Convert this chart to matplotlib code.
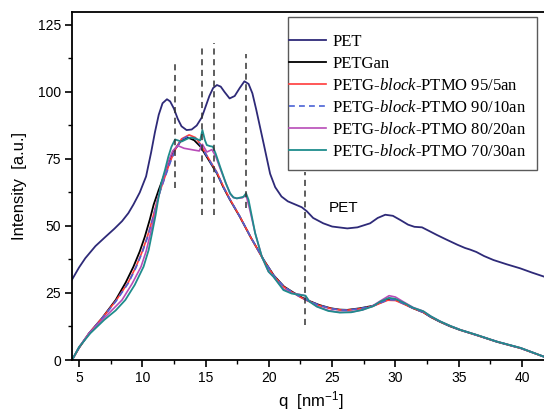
import matplotlib
matplotlib.use("Agg")
import matplotlib.pyplot as plt
from matplotlib.ticker import MultipleLocator
from matplotlib.patches import Rectangle

plt.rcParams['font.family'] = ['Liberation Sans', 'DejaVu Sans']
plt.rcParams['mathtext.fontset'] = 'custom'
plt.rcParams['mathtext.it'] = 'Liberation Serif:italic'
plt.rcParams['mathtext.rm'] = 'Liberation Sans'
plt.rcParams['mathtext.default'] = 'regular'

# ---------------- data ----------------
pet_q = [4.45, 5.0, 5.5, 6.3, 7.1, 7.8, 8.4, 8.9, 9.3, 9.8, 10.3, 10.7, 11.0, 11.3, 11.6,
         11.95, 12.2, 12.5, 12.8, 13.1, 13.5, 13.9, 14.3, 14.7, 15.0, 15.3, 15.6, 15.9,
         16.2, 16.5, 16.9, 17.3, 17.7, 18.07, 18.4, 18.7, 19.0, 19.3, 19.6, 20.1, 20.5,
         21.0, 21.5, 22.0, 22.6, 23.0, 23.5, 24.3, 25.0, 26.2, 27.0, 28.0, 28.6, 29.2,
         29.8, 30.4, 31.0, 31.5, 32.1, 32.6, 33.3, 34.0, 34.9, 35.5, 35.9, 36.4, 37.0,
         37.75, 38.8, 39.86, 40.8, 41.75]
pet_v = [30, 34.5, 38, 42.5, 46, 49, 51.8, 54.8, 58, 62.5, 68.5, 77.5, 85, 91.5, 95.8,
         97.3, 96.5, 93.8, 90, 87.2, 85.8, 86, 87.5, 90.5, 94.5, 98.5, 101.5, 102.6,
         102, 100, 97.6, 98.5, 101.5, 104, 103, 99.5, 93.5, 87, 80.5, 69.5, 64.5,
         61, 59.2, 58.2, 57, 55.5, 53, 51, 49.8, 49.1, 49.5, 51, 53, 54.2,
         53.8, 52.2, 50.5, 49.7, 49.5, 48.3, 46.6, 45, 43, 41.8, 41.2, 40.3, 38.8,
         37.3, 35.7, 34.2, 32.6, 31.1]

gan_q = [4.45, 5.0, 5.8, 6.8, 7.9, 8.7, 9.3, 9.8, 10.2, 10.6, 10.9, 11.3, 11.7, 12.1, 12.5,
         13.0, 13.6, 14.1, 14.6, 15.2, 15.9, 16.4, 16.9, 17.7, 18.6, 19.6, 20.4, 21.2,
         21.9, 22.5, 23.0, 24.0, 24.9, 25.6, 26.2, 27.2, 28.2, 28.8, 29.4, 30.0, 30.6,
         31.4, 32.2, 32.8, 33.5, 34.3, 35.1, 36.4, 38.0, 39.9, 41.75]
gan_v = [0, 4.5, 10, 15.5, 22.4, 29, 34.8, 40.5, 46, 52.5, 58, 63.5, 68.5, 73.5, 78,
         81.5, 83, 82, 79.6, 75, 69.6, 64.5, 60, 53.5, 45.5, 37.3, 31.5, 27.4,
         25.3, 23.6, 22.4, 20.5, 19.3, 18.8, 18.7, 19.3, 20.2, 21.4, 22.6, 22.5, 21.2,
         19.3, 17.8, 16.0, 14.3, 12.6, 11.2, 9.3, 6.8, 4.4, 1.2]

b95_q = [4.45, 5.0, 5.8, 6.8, 7.9, 8.9, 9.5, 10.0, 10.4, 10.8, 11.1, 11.4, 11.8, 12.2, 12.6,
         13.1, 13.7, 14.2, 14.6, 15.2, 15.9, 16.4, 16.9, 17.7, 18.6, 19.6, 20.4, 21.2,
         21.9, 22.5, 23.0, 24.0, 24.9, 25.6, 26.2, 27.2, 28.2, 28.8, 29.4, 30.0, 30.6,
         31.4, 32.2, 32.8, 33.5, 34.3, 35.1, 36.4, 38.0, 39.9, 41.75]
b95_v = [0, 4.6, 10, 15.5, 22, 29, 34.8, 40.5, 46, 52.5, 58, 63, 68.5, 74, 78.5,
         82.5, 84, 83, 80.5, 75.5, 70, 64.8, 60.2, 53.6, 45.5, 37.2, 31.3, 27.2,
         25.1, 23.4, 22.2, 20.3, 19.2, 18.7, 18.6, 19.1, 20.0, 21.2, 22.3, 22.2, 21.0,
         19.3, 17.8, 16.1, 14.4, 12.7, 11.3, 9.3, 6.9, 4.4, 1.2]

b90_q = [4.45, 5.0, 5.8, 6.8, 7.9, 8.9, 9.5, 10.0, 10.4, 10.8, 11.1, 11.4, 11.8, 12.2, 12.6,
         13.1, 13.6, 14.2, 14.6, 15.2, 15.9, 16.4, 16.9, 17.7, 18.6, 19.6, 20.4, 21.2,
         21.9, 22.5, 23.0, 24.0, 24.9, 25.6, 26.2, 27.2, 28.2, 28.8, 29.4, 30.0, 30.6,
         31.4, 32.2, 32.8, 33.5, 34.3, 35.1, 36.4, 38.0, 39.9, 41.75]
b90_v = [0, 4.6, 10, 15.4, 21.8, 28.7, 34.5, 40.2, 45.6, 52.2, 57.7, 62.8, 68.3, 73.6, 78.2,
         82.2, 83.5, 82.6, 80.2, 75.3, 69.8, 64.6, 60.1, 53.6, 45.6, 37.3, 31.4, 27.3,
         25.2, 23.5, 22.3, 20.4, 19.2, 18.7, 18.6, 19.2, 20.1, 21.3, 22.5, 22.4, 21.1,
         19.3, 17.8, 16.1, 14.4, 12.7, 11.3, 9.3, 6.9, 4.4, 1.2]

b80_q = [4.45, 5.0, 5.8, 6.8, 7.9, 8.4, 9.2, 9.9, 10.3, 10.65, 10.95, 11.2, 11.5, 11.8, 12.1,
         12.4, 12.8, 13.3, 14.0, 14.5, 14.75, 15.1, 15.5, 15.8, 16.15, 16.6, 16.94, 17.2,
         17.47, 17.9, 18.2, 18.5, 18.92, 19.45, 19.97, 20.36, 21.15, 21.8, 22.4, 22.85,
         23.2, 23.8, 24.7, 25.6, 26.5, 27.4, 28.2, 28.8, 29.5, 30.0, 30.6, 31.4, 32.2,
         32.8, 33.5, 34.3, 35.1, 36.4, 38.0, 39.9, 41.75]
b80_v = [0, 4.8, 10, 14.8, 20, 22.4, 28.5, 34.8, 40.5, 47.3, 53.5, 59.7, 65, 70, 74.5,
         78, 80, 79, 78.4, 78, 80.5, 77.6, 78.5, 76, 71.5, 66, 62, 60.6,
         60.3, 60.5, 61.5, 56, 47.3, 38.5, 33, 31.1, 26.5, 25, 24.5, 24,
         22, 20, 18.5, 17.8, 17.9, 18.7, 20.2, 22, 24, 23.5, 21.8, 19.6, 18.2,
         16.3, 14.5, 12.8, 11.3, 9.4, 6.9, 4.5, 1.2]

b70_q = [4.45, 5.0, 5.9, 7.0, 7.9, 8.66, 9.4, 10.1, 10.5, 10.77, 11.05, 11.25, 11.5, 11.8,
         12.06, 12.3, 12.59, 12.9, 13.1, 13.45, 13.78, 14.2, 14.57, 14.75, 14.95, 15.1,
         15.35, 15.57, 15.8, 16.15, 16.6, 16.94, 17.2, 17.47, 17.99, 18.2, 18.4, 18.92,
         19.45, 19.97, 20.36, 21.15, 21.8, 22.5, 22.9, 23.2, 23.8, 24.7, 25.6, 26.5,
         27.4, 28.2, 28.8, 29.5, 30.0, 30.6, 31.4, 32.2, 32.8, 33.5, 34.3, 35.1, 36.4,
         38.0, 39.9, 41.75]
b70_v = [0, 4.8, 10, 15, 18.5, 22.4, 28, 34.8, 41, 47.3, 54, 59.7, 66, 71,
         75.9, 79.5, 82.3, 81.8, 81.5, 82.3, 83, 82.7, 81.9, 85.8, 82, 80.2,
         79.8, 79.6, 77, 72.1, 66, 62.2, 60.7, 60.3, 60.9, 62.2, 59.7, 47.3,
         38.5, 33, 31.1, 26.1, 24.8, 24.3, 24, 21.8, 19.9, 18.3, 17.7, 17.8,
         18.7, 20, 21.8, 23.2, 22.8, 21.5, 19.5, 18.2, 16.3, 14.5, 12.8, 11.3, 9.4,
         6.9, 4.5, 1.2]

dash_q = [12.58, 14.72, 15.67, 18.19, 22.88]
dash_top = [112, 116.8, 118.4, 114, 70.3]
dash_bottom = [64.2, 54, 54, 56.7, 13]

series_labels = ["PET", "PETGan",
                 "PETG-$\\it{block}$-PTMO 95/5an",
                 "PETG-$\\it{block}$-PTMO 90/10an",
                 "PETG-$\\it{block}$-PTMO 80/20an",
                 "PETG-$\\it{block}$-PTMO 70/30an"]
x_ticks = [5, 10, 15, 20, 25, 30, 35, 40]
y_ticks = [0, 25, 50, 75, 100, 125]

# ---------------- figure ----------------
W, H = 544, 417
fig = plt.figure(figsize=(W / 100, H / 100), dpi=100)
ax = fig.add_axes([72 / W, (H - 360) / H, (544 - 72) / W + 0.01, (360 - 12) / H])

series = [
    (pet_q, pet_v, dict(color='#2e2a78', lw=1.3)),
    (gan_q, gan_v, dict(color='black', lw=1.3)),
    (b95_q, b95_v, dict(color='#ff3b3b', lw=1.2)),
    (b90_q, b90_v, dict(color='#4a62d6', lw=1.2, ls=(0, (3.5, 2.5)))),
    (b80_q, b80_v, dict(color='#b84cb8', lw=1.2)),
    (b70_q, b70_v, dict(color='#1f8c8c', lw=1.3)),
]
handles = []
for (q, v, st), lab in zip(series, series_labels):
    h, = ax.plot(q, v, label=lab, solid_joinstyle='round', **st)
    handles.append(h)

for q, t, b in zip(dash_q, dash_top, dash_bottom):
    ax.plot([q, q], [b, t], color='#333333', lw=1.1, ls=(0, (4, 3)))

ax.text(25.9, 56.6, "PET", fontsize=11, ha='center', va='center')

ax.set_xlim(4.447, 41.74 + 0.01 * W / 12.657)
ax.set_ylim(0, 129.85)
ax.set_xticks(x_ticks)
ax.set_yticks(y_ticks)
ax.xaxis.set_minor_locator(MultipleLocator(2.5))
ax.yaxis.set_minor_locator(MultipleLocator(12.5))
ax.tick_params(which='major', direction='out', length=5, width=1.2, labelsize=10, pad=3)
ax.tick_params(which='minor', direction='out', length=3, width=1.0)
ax.tick_params(top=False, right=False)
ax.spines['right'].set_visible(False)
for s in ['left', 'bottom', 'top']:
    ax.spines[s].set_linewidth(1.3)

ax.set_xlabel("q  [nm$^{-1}$]", fontsize=12, labelpad=3)
ax.set_ylabel("Intensity  [a.u.]", fontsize=12, labelpad=8)

# legend: entries without frame, frame drawn as a box around them
leg = fig.legend(handles=handles, loc='upper left',
                 bbox_to_anchor=(289 / W, 1 - 34 / H),
                 borderaxespad=0, frameon=False,
                 prop={'family': 'Liberation Serif', 'size': 12},
                 handlelength=2.2, handletextpad=0.4, labelspacing=0.36,
                 borderpad=0.0)
fig.add_artist(Rectangle((288 / W, 1 - 170 / H), (537 - 288) / W, (170 - 17) / H,
                         transform=fig.transFigure, fill=True, facecolor='white',
                         edgecolor='#5a5a5a', lw=1.0, zorder=1))
leg.set_zorder(2)

fig.savefig("out.png", dpi=100)
